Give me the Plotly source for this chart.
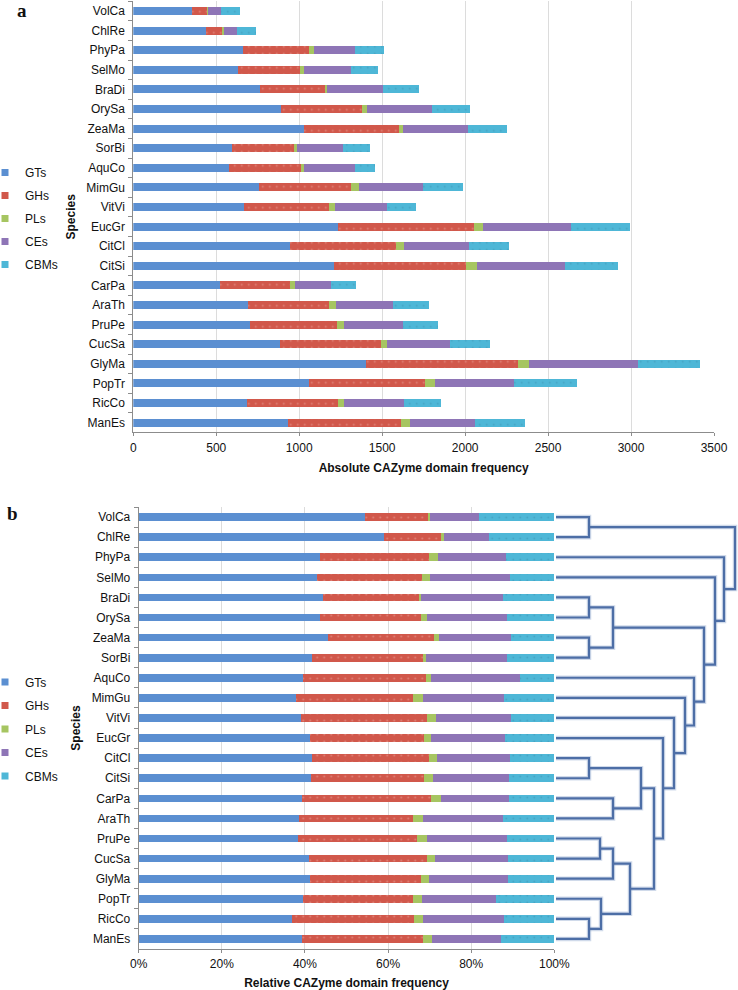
import plotly.graph_objects as go

# ---------------- data ----------------
species = ["VolCa", "ChlRe", "PhyPa", "SelMo", "BraDi", "OrySa", "ZeaMa", "SorBi",
           "AquCo", "MimGu", "VitVi", "EucGr", "CitCl", "CitSi", "CarPa", "AraTh",
           "PruPe", "CucSa", "GlyMa", "PopTr", "RicCo", "ManEs"]
families = ["GTs", "GHs", "PLs", "CEs", "CBMs"]

GTs  = [351, 437, 661, 633, 763, 888, 1026, 595, 577, 755, 665, 1232, 946, 1210, 525, 689, 703, 882, 1405, 1058, 683, 930]
GHs  = [98, 102, 395, 371, 395, 492, 573, 381, 431, 557, 517, 821, 639, 795, 419, 489, 527, 609, 915, 703, 549, 685]
PLs  = [3, 6, 36, 26, 10, 31, 26, 12, 18, 48, 36, 53, 44, 65, 32, 42, 42, 38, 66, 58, 40, 50]
CEs  = [76, 80, 246, 284, 339, 388, 392, 278, 312, 387, 311, 530, 394, 530, 218, 345, 355, 379, 653, 475, 359, 393]
CBMs = [116, 116, 176, 158, 212, 232, 233, 162, 120, 242, 176, 357, 243, 321, 146, 218, 208, 240, 377, 378, 226, 304]

abs_tick_vals = [0, 500, 1000, 1500, 2000, 2500, 3000, 3500]
rel_tick_vals = [0, 20, 40, 60, 80, 100]
rel_tick_text = ["0%", "20%", "40%", "60%", "80%", "100%"]

# dendrogram (hierarchical clustering of relative profiles): merge i joins
# merge_left[i] and merge_right[i] at distance merge_height[i]; "m<k>" = merge k
merge_left   = ["VolCa", "BraDi", "ZeaMa", "m1", "CitCl", "CarPa", "m4", "PruPe", "m7", "RicCo", "PopTr",
                "m8", "m6", "EucGr", "VitVi", "MimGu", "AquCo", "m3", "SelMo", "PhyPa", "m0"]
merge_right  = ["ChlRe", "OrySa", "SorBi", "m2", "CitSi", "AraTh", "m5", "CucSa", "GlyMa", "ManEs", "m9",
                "m10", "m11", "m12", "m13", "m14", "m15", "m16", "m17", "m18", "m19"]
merge_height = [0.33, 0.33, 0.33, 0.57, 0.33, 0.57, 0.85, 0.44, 0.57, 0.33, 0.45,
                0.74, 0.98, 1.07, 1.18, 1.29, 1.38, 1.48, 1.59, 1.68, 1.79]

# ---------------- styling ----------------
colors = {"GTs": "#5b8fd1", "GHs": "#d1584b", "PLs": "#a6c561", "CEs": "#8e75b6", "CBMs": "#4eb7d7"}
patterns = {
    "GHs": dict(shape=".", fgcolor="rgba(255,235,230,0.6)", size=7, solidity=0.05, fillmode="overlay"),
    "CBMs": dict(shape=".", fgcolor="rgba(40,100,130,0.5)", size=7, solidity=0.05, fillmode="overlay"),
}
FONT = "Liberation Sans, Arial, sans-serif"
W, H = 738, 990

def px_x(p):
    return p / W

def px_y(p):
    return 1 - p / H

series = {"GTs": GTs, "GHs": GHs, "PLs": PLs, "CEs": CEs, "CBMs": CBMs}
totals = [sum(series[f][i] for f in families) for i in range(len(species))]

fig = go.Figure()

# panel a: absolute
for f in families:
    fig.add_trace(go.Bar(
        x=series[f], y=species, orientation="h", name=f, width=0.4,
        marker=dict(color=colors[f], line=dict(width=0), pattern=patterns.get(f, dict(shape=""))),
        xaxis="x", yaxis="y", legendgroup="a" + f, showlegend=False,
        hovertemplate="%{y} " + f + ": %{x}<extra></extra>"))
    fig.add_trace(go.Scatter(
        x=[None], y=[None], mode="markers", name=f,
        marker=dict(symbol="square", size=7, color=colors[f]),
        xaxis="x", yaxis="y", legend="legend", legendgroup="a" + f, showlegend=True))

# panel b: relative
for f in families:
    rel = [100.0 * v / t for v, t in zip(series[f], totals)]
    fig.add_trace(go.Bar(
        x=rel, y=species, orientation="h", name=f, width=0.38,
        marker=dict(color=colors[f], line=dict(width=0), pattern=patterns.get(f, dict(shape=""))),
        xaxis="x2", yaxis="y2", legendgroup="b" + f, showlegend=False,
        hovertemplate="%{y} " + f + ": %{x:.1f}%<extra></extra>"))
    fig.add_trace(go.Scatter(
        x=[None], y=[None], mode="markers", name=f,
        marker=dict(symbol="square", size=7, color=colors[f]),
        xaxis="x2", yaxis="y2", legend="legend2", legendgroup="b" + f, showlegend=True))

# dendrogram
pos = {s: (0.0, float(i)) for i, s in enumerate(species)}
dx, dy = [], []
for k, (l, r, h) in enumerate(zip(merge_left, merge_right, merge_height)):
    xl, yl = pos[l]
    xr, yr = pos[r]
    dx += [xl, h, h, xr, None]
    dy += [yl, yl, yr, yr, None]
    pos["m%d" % k] = (h, (yl + yr) / 2)
fig.add_trace(go.Scatter(x=dx, y=dy, mode="lines", xaxis="x3", yaxis="y3",
                         line=dict(color="rgba(120,150,195,0.35)", width=4.5),
                         showlegend=False, hoverinfo="skip"))
fig.add_trace(go.Scatter(x=dx, y=dy, mode="lines", xaxis="x3", yaxis="y3",
                         line=dict(color="#4d6ea6", width=2.2),
                         showlegend=False, hoverinfo="skip"))

axis_common = dict(showline=True, linecolor="#8c8c8c", linewidth=1, automargin=False,
                   tickfont=dict(family=FONT, size=12, color="#111"))
title_font = dict(family=FONT, size=12, color="#111")

ya_top, ya_bot = 1.2, 432.4
yb_top, yb_bot = 507.0, 949.0

fig.update_layout(
    template="none",
    width=W, height=H, autosize=False,
    margin=dict(l=0, r=0, t=0, b=0, pad=0),
    paper_bgcolor="white", plot_bgcolor="white",
    barmode="stack",
    font=dict(family=FONT, size=12, color="#111"),
    xaxis=dict(domain=[px_x(133.3), px_x(714)], anchor="y", range=[0, 3500],
               tickvals=abs_tick_vals, showgrid=True, gridcolor="#dcdcdc", gridwidth=1,
               zeroline=False, ticks="outside", ticklen=3, tickcolor="#8c8c8c",
               ticklabelstandoff=1,
               title=dict(text="<b>Absolute CAZyme domain frequency</b>", font=title_font, standoff=9),
               **axis_common),
    yaxis=dict(domain=[px_y(ya_bot), px_y(ya_top)], anchor="x", type="category",
               categoryorder="array", categoryarray=species, autorange="reversed",
               tickson="boundaries", ticks="outside", ticklen=4, tickcolor="#8c8c8c",
               showgrid=False, ticklabelstandoff=5,
               title=dict(text="<b>Species</b>", font=title_font, standoff=8),
               **axis_common),
    xaxis2=dict(domain=[px_x(138.7), px_x(554.3)], anchor="y2", range=[0, 100],
                tickvals=rel_tick_vals, ticktext=rel_tick_text, showgrid=True, gridcolor="#dcdcdc",
                gridwidth=1, zeroline=False, ticks="outside", ticklen=3, tickcolor="#8c8c8c",
                ticklabelstandoff=1,
                title=dict(text="<b>Relative CAZyme domain frequency</b>", font=title_font, standoff=9),
                **axis_common),
    yaxis2=dict(domain=[px_y(yb_bot), px_y(yb_top)], anchor="x2", type="category",
                categoryorder="array", categoryarray=species, autorange="reversed",
                tickson="boundaries", ticks="outside", ticklen=4, tickcolor="#8c8c8c",
                showgrid=False, ticklabelstandoff=5,
                title=dict(text="<b>Species</b>", font=title_font, standoff=8),
                **axis_common),
    xaxis3=dict(domain=[px_x(556), 1.0], anchor="y3", range=[0, 1.82], visible=False,
                automargin=False),
    yaxis3=dict(domain=[px_y(yb_bot), px_y(yb_top)], anchor="x3",
                range=[len(species) - 0.5, -0.5], visible=False, automargin=False),
    legend=dict(x=0, y=px_y(158), xanchor="left", yanchor="top", indentation=-15,
                font=dict(family=FONT, size=12, color="#111"), tracegroupgap=4,
                bgcolor="rgba(0,0,0,0)", borderwidth=0),
    legend2=dict(x=0, y=px_y(667.5), xanchor="left", yanchor="top", indentation=-15,
                 font=dict(family=FONT, size=12, color="#111"), tracegroupgap=4.5,
                 bgcolor="rgba(0,0,0,0)", borderwidth=0),
    annotations=[
        dict(text="<b>a</b>", x=px_x(21.5), y=px_y(11), xref="paper", yref="paper",
             xanchor="center", yanchor="middle", showarrow=False,
             font=dict(family="Liberation Serif, Times New Roman, serif", size=19, color="#111")),
        dict(text="<b>b</b>", x=px_x(12.5), y=px_y(513), xref="paper", yref="paper",
             xanchor="center", yanchor="middle", showarrow=False,
             font=dict(family="Liberation Serif, Times New Roman, serif", size=19, color="#111")),
    ],
)

fig.write_html("out.html", config={"displayModeBar": False},
               post_script="document.body.style.margin='0';")
